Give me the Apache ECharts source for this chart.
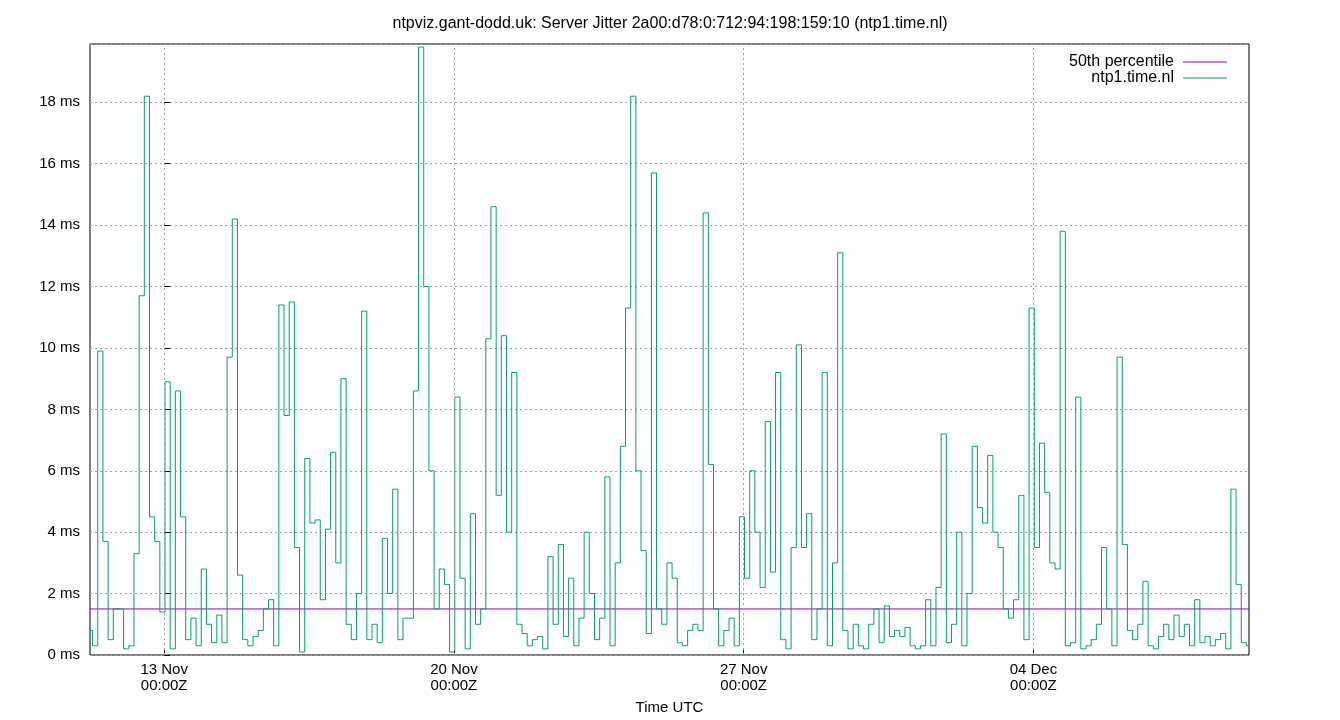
<!DOCTYPE html><html><head><meta charset="utf-8"><script src="https://cdn.jsdelivr.net/npm/echarts@6/dist/echarts.min.js"></script></head><body style="margin:0"><div id="c" style="width:1340px;height:720px"></div><script>
const startHour=-43, stepHours=3; // hours relative to 13 Nov 00:00Z
const jitter=[0.8,0.3,9.9,3.7,0.5,1.5,1.5,0.2,0.3,3.3,11.7,18.2,4.5,3.7,1.4,8.9,0.2,8.6,4.5,0.5,1.2,0.3,2.8,1.0,0.4,1.3,0.4,9.7,14.2,2.6,0.5,0.3,0.6,0.8,1.5,1.8,0.3,11.4,7.8,11.5,3.5,0.1,6.4,4.3,4.4,1.8,4.1,6.6,3.0,9.0,1.0,0.5,2.0,11.2,0.5,1.0,0.4,3.8,2.0,5.4,0.5,1.2,1.2,8.6,19.8,12.0,6.0,1.5,2.8,2.3,0.1,8.4,2.5,0.2,4.6,1.0,1.5,10.3,14.6,5.2,10.4,4.0,9.2,1.0,0.7,0.3,0.5,0.6,0.2,3.2,1.0,3.6,0.6,2.5,0.3,1.2,4.0,2.0,0.5,1.2,5.8,0.3,3.0,6.8,11.3,18.2,6.0,3.4,0.7,15.7,1.5,1.0,3.0,2.5,0.4,0.3,0.8,1.0,0.8,14.4,6.2,1.5,0.3,0.8,1.2,0.3,4.5,2.5,6.0,4.0,2.2,7.6,2.7,9.2,0.5,0.2,3.5,10.1,3.5,4.6,0.5,1.5,9.2,0.3,3.0,13.1,0.8,0.2,1.0,0.3,0.2,1.0,1.5,0.4,1.6,0.6,0.8,0.6,0.9,0.3,0.2,0.3,1.8,0.3,2.2,7.2,0.4,1.0,4.0,0.3,2.0,6.8,4.8,4.3,6.5,4.0,3.5,1.5,1.2,1.8,5.2,0.5,11.3,3.5,6.9,5.3,3.0,2.8,13.8,0.3,0.4,8.4,0.2,0.3,0.5,1.0,3.5,1.5,0.3,9.7,3.6,0.8,0.5,1.0,2.4,0.3,0.2,0.6,1.0,0.5,1.3,0.6,1.0,0.3,1.8,0.4,0.6,0.3,0.5,0.7,0.2,5.4,2.3,0.4,0.3];
const percentile50=1.5;
const tickHours=[0,168,336,504];
const tickLabels=["13 Nov\n00:00Z","20 Nov\n00:00Z","27 Nov\n00:00Z","04 Dec\n00:00Z"];
const xMin=-43,xMax=629;
const data=jitter.map((v,i)=>[startHour+i*stepHours,v]);
const F='Liberation Sans, Arial, sans-serif';
const ch=echarts.init(document.getElementById('c'));
ch.setOption({
 animation:false,
 title:{text:'ntpviz.gant-dodd.uk: Server Jitter 2a00:d78:0:712:94:198:159:10 (ntp1.time.nl)',left:'center',top:11,textStyle:{fontFamily:F,fontSize:16,fontWeight:'normal',color:'#000'}},
 grid:{left:90,right:91,top:44,bottom:65,show:true,borderColor:'#000',borderWidth:1},
 legend:{right:108,top:49,orient:'vertical',align:'right',itemWidth:44,itemHeight:1,itemGap:0,icon:'rect',textStyle:{fontFamily:F,fontSize:16,color:'#000',padding:[0,4,0,0]},data:['50th percentile','ntp1.time.nl']},
 xAxis:{type:'value',min:xMin,max:xMax,name:'Time UTC',nameLocation:'middle',nameGap:45,nameTextStyle:{fontFamily:F,fontSize:15,color:'#000'},
  axisLine:{show:false},splitLine:{show:false},
  axisTick:{customValues:tickHours,inside:true,length:6,lineStyle:{color:'#000'}},
  axisLabel:{customValues:tickHours,formatter:v=>tickLabels[tickHours.indexOf(v)]||'',fontFamily:F,fontSize:15,color:'#000',lineHeight:16,margin:7}},
 yAxis:{type:'value',min:0,max:19.9,interval:2,axisLine:{show:false},
  axisTick:{show:true,inside:true,length:6,lineStyle:{color:'#000'}},
  axisLabel:{formatter:v=>v+' ms',fontFamily:F,fontSize:15,color:'#000',margin:10,showMaxLabel:false},
  splitLine:{lineStyle:{color:'#a0a0a0',type:[2,3]}}},
 series:[
  {name:'50th percentile',type:'line',symbol:'none',data:[[xMin,percentile50],[xMax,percentile50]],lineStyle:{color:'#9400d3',width:1},itemStyle:{color:'#9400d3'}},
  {name:'ntp1.time.nl',type:'line',step:'middle',symbol:'none',data:data,lineStyle:{color:'#009e73',width:1},itemStyle:{color:'#009e73'},
   markLine:{silent:true,symbol:'none',label:{show:false},lineStyle:{color:'#a0a0a0',type:[2,3],width:1},data:tickHours.map(h=>({xAxis:h}))}}
 ]
});
</script></body></html>
